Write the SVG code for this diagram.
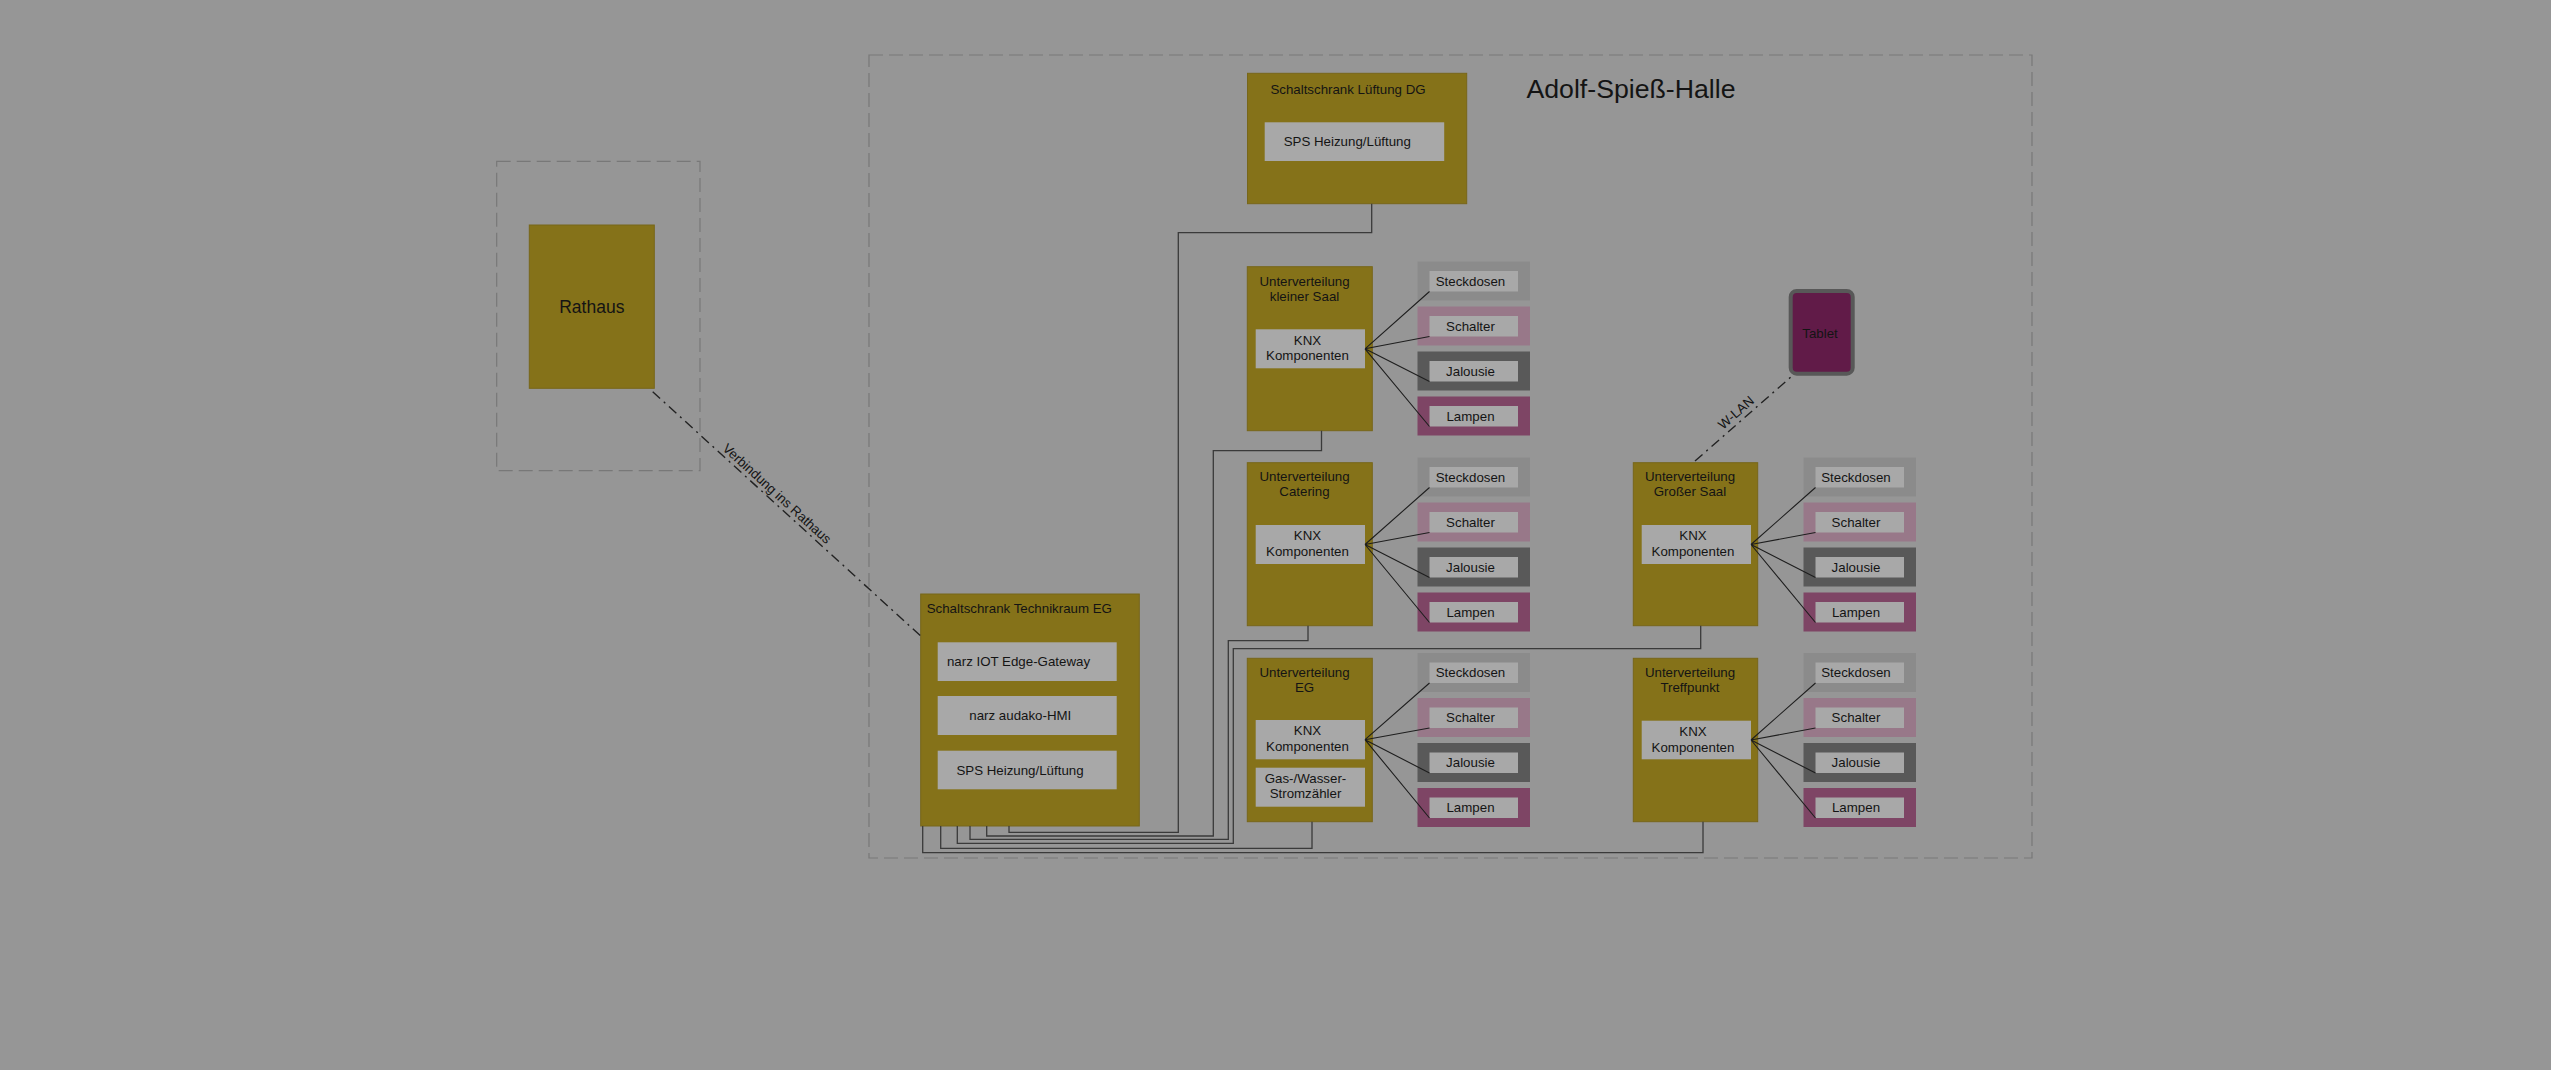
<svg xmlns="http://www.w3.org/2000/svg" width="2551" height="1070" viewBox="0 0 2551 1070">
<defs>
<style>
text{font-family:"Liberation Sans",Arial,sans-serif;fill:#141414;font-size:13.3px}
.c{text-anchor:middle}
.frame{fill:none;stroke:#787878;stroke-width:1.2;stroke-dasharray:14 6}
.olive{fill:#857219;stroke:#77661a;stroke-width:1}
.inner{fill:#a8a8a8}
.st{fill:#8b8b8b}.sc{fill:#987889}.ja{fill:#595959}.la{fill:#7e4565}
.wire{fill:none;stroke:#3a3a3a;stroke-width:1.3}
.fan{fill:none;stroke:#1e1e1e;stroke-width:1.1}
.dd{fill:none;stroke:#222;stroke-width:1.4;stroke-dasharray:10 5 2 5}
</style>
</defs>
<rect width="2551" height="1070" fill="#969696"/>

<g id="frame-rathaus"><rect class="frame" x="496.7" y="161.3" width="203.3" height="309.4"/></g>
<g id="frame-halle"><rect class="frame" x="869" y="55" width="1163" height="803"/>
<text x="1631" y="97.7" class="c" style="font-size:26.7px">Adolf-Spieß-Halle</text></g>

<g id="rathaus"><rect class="olive" x="529.3" y="225" width="125" height="163.3"/>
<text x="591.8" y="312.5" class="c" style="font-size:17.5px">Rathaus</text></g>

<g id="schaltschrank-dg"><rect class="olive" x="1247.5" y="73.3" width="219.2" height="130.4"/>
<text x="1348" y="94" class="c">Schaltschrank Lüftung DG</text>
<rect class="inner" x="1264.7" y="122.3" width="179.5" height="38.7"/>
<text x="1347.3" y="146.3" class="c">SPS Heizung/Lüftung</text></g>

<g id="schaltschrank-eg"><rect class="olive" x="920.7" y="594" width="218.6" height="232"/>
<text x="926.7" y="613.3">Schaltschrank Technikraum EG</text>
<rect class="inner" x="937.7" y="642.3" width="179" height="38.7"/>
<text x="1018.5" y="666.3" class="c">narz IOT Edge-Gateway</text>
<rect class="inner" x="937.7" y="696" width="179" height="39"/>
<text x="1020.3" y="720.2" class="c">narz audako-HMI</text>
<rect class="inner" x="937.7" y="750.7" width="179" height="38.6"/>
<text x="1020" y="774.8" class="c">SPS Heizung/Lüftung</text></g>

<g id="uv-kleiner-saal"><rect class="olive" x="1247.3" y="266.7" width="125" height="164"/>
<text x="1304.5" y="285.5" class="c">Unterverteilung</text><text x="1304.5" y="300.5" class="c">kleiner Saal</text>
<rect class="inner" x="1255.7" y="329.3" width="109.3" height="39"/>
<text x="1307.5" y="344.5" class="c">KNX</text><text x="1307.5" y="360" class="c">Komponenten</text></g>

<g id="uv-catering"><rect class="olive" x="1247.3" y="462.7" width="125" height="163"/>
<text x="1304.5" y="481.3" class="c">Unterverteilung</text><text x="1304.5" y="496.3" class="c">Catering</text>
<rect class="inner" x="1255.7" y="525" width="109.3" height="39"/>
<text x="1307.5" y="540.2" class="c">KNX</text><text x="1307.5" y="555.7" class="c">Komponenten</text></g>

<g id="uv-eg"><rect class="olive" x="1247.3" y="658.3" width="125" height="163.4"/>
<text x="1304.5" y="676.8" class="c">Unterverteilung</text><text x="1304.5" y="691.8" class="c">EG</text>
<rect class="inner" x="1255.7" y="720" width="109.3" height="39.3"/>
<text x="1307.5" y="735.3" class="c">KNX</text><text x="1307.5" y="750.8" class="c">Komponenten</text>
<rect class="inner" x="1255.7" y="767.7" width="109.3" height="39"/>
<text x="1305.5" y="782.5" class="c">Gas-/Wasser-</text><text x="1305.5" y="798" class="c">Stromzähler</text></g>

<g id="uv-grosser-saal"><rect class="olive" x="1633.3" y="462.7" width="124.4" height="163"/>
<text x="1690" y="481.3" class="c">Unterverteilung</text><text x="1690" y="496.3" class="c">Großer Saal</text>
<rect class="inner" x="1641.7" y="525" width="109.3" height="39"/>
<text x="1693" y="540.2" class="c">KNX</text><text x="1693" y="555.7" class="c">Komponenten</text></g>

<g id="uv-treffpunkt"><rect class="olive" x="1633.3" y="658.3" width="124.4" height="163.4"/>
<text x="1690" y="676.8" class="c">Unterverteilung</text><text x="1690" y="691.8" class="c">Treffpunkt</text>
<rect class="inner" x="1641.7" y="720.7" width="109.3" height="38.6"/>
<text x="1693" y="736" class="c">KNX</text><text x="1693" y="751.5" class="c">Komponenten</text></g>

<g id="tablet"><rect x="1790.7" y="291" width="62" height="82.7" rx="6" fill="#611b48" stroke="#585858" stroke-width="4"/>
<text x="1820" y="337.5" class="c">Tablet</text></g>

<!-- item boxes: kleiner Saal (y0=261.5) -->
<g id="ks-steckdosen"><rect class="st" x="1417.5" y="261.5" width="112.5" height="39"/><rect class="inner" x="1429.5" y="271" width="88.5" height="20.5"/><text x="1470.5" y="285.7" class="c">Steckdosen</text></g>
<g id="ks-schalter"><rect class="sc" x="1417.5" y="306.5" width="112.5" height="39"/><rect class="inner" x="1429.5" y="316" width="88.5" height="20.5"/><text x="1470.5" y="330.7" class="c">Schalter</text></g>
<g id="ks-jalousie"><rect class="ja" x="1417.5" y="351.5" width="112.5" height="39"/><rect class="inner" x="1429.5" y="361" width="88.5" height="20.5"/><text x="1470.5" y="375.7" class="c">Jalousie</text></g>
<g id="ks-lampen"><rect class="la" x="1417.5" y="396.5" width="112.5" height="39"/><rect class="inner" x="1429.5" y="406" width="88.5" height="20.5"/><text x="1470.5" y="420.7" class="c">Lampen</text></g>

<!-- Catering (y0=457.5) -->
<g id="ca-steckdosen"><rect class="st" x="1417.5" y="457.5" width="112.5" height="39"/><rect class="inner" x="1429.5" y="467" width="88.5" height="20.5"/><text x="1470.5" y="481.7" class="c">Steckdosen</text></g>
<g id="ca-schalter"><rect class="sc" x="1417.5" y="502.5" width="112.5" height="39"/><rect class="inner" x="1429.5" y="512" width="88.5" height="20.5"/><text x="1470.5" y="526.7" class="c">Schalter</text></g>
<g id="ca-jalousie"><rect class="ja" x="1417.5" y="547.5" width="112.5" height="39"/><rect class="inner" x="1429.5" y="557" width="88.5" height="20.5"/><text x="1470.5" y="571.7" class="c">Jalousie</text></g>
<g id="ca-lampen"><rect class="la" x="1417.5" y="592.5" width="112.5" height="39"/><rect class="inner" x="1429.5" y="602" width="88.5" height="20.5"/><text x="1470.5" y="616.7" class="c">Lampen</text></g>

<!-- EG (y0=653) -->
<g id="eg-steckdosen"><rect class="st" x="1417.5" y="653" width="112.5" height="39"/><rect class="inner" x="1429.5" y="662.5" width="88.5" height="20.5"/><text x="1470.5" y="677.2" class="c">Steckdosen</text></g>
<g id="eg-schalter"><rect class="sc" x="1417.5" y="698" width="112.5" height="39"/><rect class="inner" x="1429.5" y="707.5" width="88.5" height="20.5"/><text x="1470.5" y="722.2" class="c">Schalter</text></g>
<g id="eg-jalousie"><rect class="ja" x="1417.5" y="743" width="112.5" height="39"/><rect class="inner" x="1429.5" y="752.5" width="88.5" height="20.5"/><text x="1470.5" y="767.2" class="c">Jalousie</text></g>
<g id="eg-lampen"><rect class="la" x="1417.5" y="788" width="112.5" height="39"/><rect class="inner" x="1429.5" y="797.5" width="88.5" height="20.5"/><text x="1470.5" y="812.2" class="c">Lampen</text></g>

<!-- Großer Saal (y0=457.5) -->
<g id="gs-steckdosen"><rect class="st" x="1803.5" y="457.5" width="112.5" height="39"/><rect class="inner" x="1815.5" y="467" width="88.5" height="20.5"/><text x="1856" y="481.7" class="c">Steckdosen</text></g>
<g id="gs-schalter"><rect class="sc" x="1803.5" y="502.5" width="112.5" height="39"/><rect class="inner" x="1815.5" y="512" width="88.5" height="20.5"/><text x="1856" y="526.7" class="c">Schalter</text></g>
<g id="gs-jalousie"><rect class="ja" x="1803.5" y="547.5" width="112.5" height="39"/><rect class="inner" x="1815.5" y="557" width="88.5" height="20.5"/><text x="1856" y="571.7" class="c">Jalousie</text></g>
<g id="gs-lampen"><rect class="la" x="1803.5" y="592.5" width="112.5" height="39"/><rect class="inner" x="1815.5" y="602" width="88.5" height="20.5"/><text x="1856" y="616.7" class="c">Lampen</text></g>

<!-- Treffpunkt (y0=653) -->
<g id="tp-steckdosen"><rect class="st" x="1803.5" y="653" width="112.5" height="39"/><rect class="inner" x="1815.5" y="662.5" width="88.5" height="20.5"/><text x="1856" y="677.2" class="c">Steckdosen</text></g>
<g id="tp-schalter"><rect class="sc" x="1803.5" y="698" width="112.5" height="39"/><rect class="inner" x="1815.5" y="707.5" width="88.5" height="20.5"/><text x="1856" y="722.2" class="c">Schalter</text></g>
<g id="tp-jalousie"><rect class="ja" x="1803.5" y="743" width="112.5" height="39"/><rect class="inner" x="1815.5" y="752.5" width="88.5" height="20.5"/><text x="1856" y="767.2" class="c">Jalousie</text></g>
<g id="tp-lampen"><rect class="la" x="1803.5" y="788" width="112.5" height="39"/><rect class="inner" x="1815.5" y="797.5" width="88.5" height="20.5"/><text x="1856" y="812.2" class="c">Lampen</text></g>

<g id="connectors">
<path class="wire" d="M1371.7,203.7 V232.7 H1178.3 V832.3 H1009 V826"/>
<path class="wire" d="M1321.5,430.7 V450.7 H1213.3 V836 H986.7 V826"/>
<path class="wire" d="M1308,625.7 V640.7 H1228.3 V839.3 H970 V826"/>
<path class="wire" d="M1700.7,625.7 V648.7 H1233.3 V843.3 H957.3 V826"/>
<path class="wire" d="M1312,821.7 V848.3 H940.7 V826"/>
<path class="wire" d="M1703,821.7 V852.7 H922.7 V826"/>

<path class="fan" d="M1365,348.8 L1429.5,291.5 M1365,348.8 L1429.5,336.5 M1365,348.8 L1429.5,381.5 M1365,348.8 L1429.5,426.5"/>
<path class="fan" d="M1365,544.5 L1429.5,487.5 M1365,544.5 L1429.5,532.5 M1365,544.5 L1429.5,577.5 M1365,544.5 L1429.5,622.5"/>
<path class="fan" d="M1365,739.7 L1429.5,683 M1365,739.7 L1429.5,728 M1365,739.7 L1429.5,773 M1365,739.7 L1429.5,818"/>
<path class="fan" d="M1751,544.5 L1815.5,487.5 M1751,544.5 L1815.5,532.5 M1751,544.5 L1815.5,577.5 M1751,544.5 L1815.5,622.5"/>
<path class="fan" d="M1751,740 L1815.5,683 M1751,740 L1815.5,728 M1751,740 L1815.5,773 M1751,740 L1815.5,818"/>

<path class="dd" d="M652.7,391.7 L920.7,636"/>
<text x="774" y="497" class="c" transform="rotate(42.35 774 497)">Verbindung ins Rathaus</text>
<path class="dd" d="M1695,461 L1794,374.3"/>
<text x="1739" y="416" class="c" transform="rotate(-41.2 1739 416)">W-LAN</text>
</g>
</svg>
